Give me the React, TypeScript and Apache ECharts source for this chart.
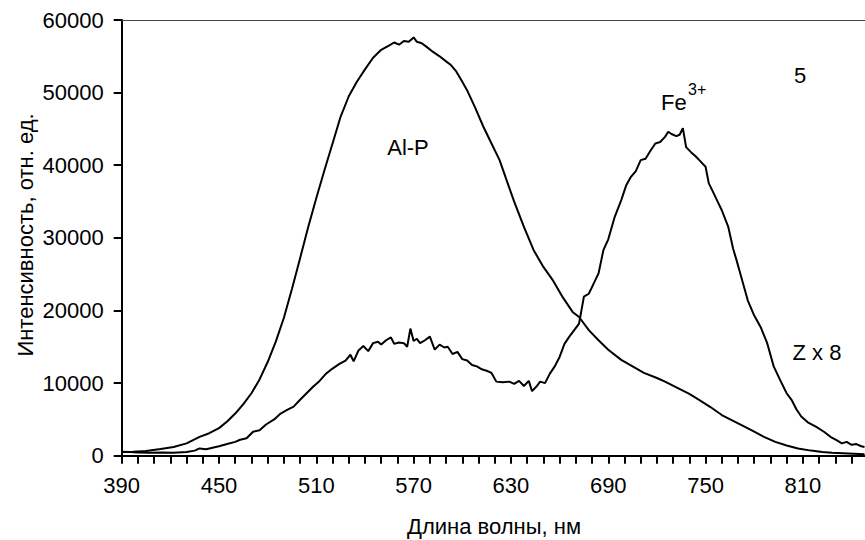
import React, { useEffect, useRef } from "react";
import * as echarts from "echarts";

// Al-P band (broad, peak ~570 nm)
const alpWavelength = [390, 397, 405, 414, 422, 430, 438, 444, 450, 455, 460, 465, 470, 475, 480, 485, 490, 495, 500, 505, 510, 515, 520, 525, 530, 535, 540, 545, 550, 555, 558, 561, 564, 567, 570, 572, 575, 578, 582, 586, 590, 593, 596, 600, 603, 608, 613, 618, 623, 628, 632, 638, 644, 650, 656, 662, 668, 672, 678, 684, 690, 698, 705, 712, 720, 725, 732, 740, 746, 753, 760, 767, 774, 780, 786, 793, 800, 807, 815, 822, 828, 838, 848];
const alpIntensity = [500, 550, 650, 920, 1200, 1700, 2600, 3100, 3800, 4700, 5800, 7100, 8600, 10500, 12900, 15700, 19000, 23000, 27200, 31500, 35500, 39300, 43000, 46700, 49500, 51500, 53200, 54800, 55900, 56500, 56900, 56600, 57100, 57000, 57600, 57000, 56800, 56300, 55600, 55000, 54300, 53800, 53000, 51500, 50300, 47900, 45300, 43000, 40700, 37500, 35000, 31500, 28300, 26000, 24100, 21800, 19800, 19100, 17300, 15900, 14600, 13200, 12300, 11400, 10700, 10200, 9400, 8500, 7700, 6700, 5600, 4800, 4000, 3300, 2600, 1900, 1400, 1000, 700, 500, 400, 300, 200];

// Fe3+ band (Z x 8)
const feWavelength = [390, 395, 400, 407, 415, 422, 430, 435, 438, 442, 446, 450, 455, 460, 463, 467, 471, 475, 479, 484, 488, 492, 496, 500, 504, 508, 512, 516, 520, 524, 528, 531, 533, 536, 539, 542, 545, 548, 550, 553, 556, 558, 561, 564, 566, 568, 570, 572, 574, 577, 580, 583, 586, 589, 591, 594, 597, 600, 603, 606, 609, 612, 615, 618, 621, 625, 629, 632, 635, 638, 641, 643, 646, 648, 651, 654, 657, 660, 663, 666, 669, 672, 675, 678, 681, 684, 687, 690, 694, 698, 701, 704, 707, 710, 713, 716, 719, 722, 725, 727, 729, 732, 734, 736, 738, 741, 744, 747, 750, 752, 754, 757, 760, 764, 767, 769, 772, 776, 780, 784, 788, 792, 796, 800, 803, 806, 809, 813, 818, 823, 827, 831, 834, 837, 840, 843, 846, 848];
const feIntensity = [550, 500, 450, 410, 450, 400, 500, 700, 1000, 900, 1100, 1300, 1600, 1900, 2200, 2400, 3300, 3500, 4300, 5000, 5800, 6300, 6750, 7700, 8600, 9500, 10300, 11300, 12000, 12600, 13100, 13900, 13000, 14500, 15100, 14400, 15500, 15700, 15300, 15900, 16300, 15400, 15600, 15500, 15000, 17500, 15800, 16100, 15500, 15900, 16400, 14600, 15300, 14900, 15000, 14000, 14300, 13300, 13100, 12500, 12300, 11900, 11700, 11400, 10200, 10100, 10200, 9900, 10300, 9600, 10300, 8900, 9600, 10200, 10000, 11300, 12300, 13600, 15400, 16400, 17300, 18200, 21900, 22300, 23700, 25100, 28300, 29800, 32900, 35200, 37200, 38400, 39200, 40700, 40900, 42000, 43000, 43200, 43900, 44600, 44300, 44000, 44200, 45100, 42500, 41800, 41200, 40500, 39800, 37500, 36600, 35200, 33800, 31500, 28500, 27000, 24600, 21400, 19300, 17700, 15500, 12300, 10400, 8600, 7700, 6400, 5400, 4600, 4000, 3300, 2600, 2100, 1700, 1900, 1500, 1600, 1300, 1200];

const xMin = 390;
const xMax = 848.3;
const xTickStep = 10;
const xLabelStep = 60;
const yMin = 0;
const yMax = 60000;
const yStep = 10000;

const xTitle = "Длина волны, нм";
const yTitle = "Интенсивность, отн. ед.";

const FONT = '"Liberation Sans", Arial, sans-serif';
const FS = 22;

export default function App() {
  const ref = useRef<HTMLDivElement>(null);
  useEffect(() => {
    if (!ref.current) return;
    const chart = echarts.init(ref.current, null, { renderer: "svg" });
    const alpData = alpWavelength.map((x, i) => [x, alpIntensity[i]]);
    const feData = feWavelength.map((x, i) => [x, feIntensity[i]]);
    const grid = { left: 121.7, right: 0, top: 20, bottom: 84.3 };
    const textStyle = { fontFamily: FONT, fontSize: FS, fill: "#000" };
    chart.setOption({
      animation: false,
      backgroundColor: "#fff",
      grid,
      xAxis: [
        {
          type: "value",
          min: xMin,
          max: xMax,
          interval: xTickStep,
          axisLine: { show: true, lineStyle: { color: "#000", width: 2 } },
          axisTick: { show: true, length: 8, lineStyle: { color: "#000", width: 2 } },
          axisLabel: {
            margin: 19,
            color: "#000",
            fontFamily: FONT,
            fontSize: FS,
            showMinLabel: true,
            showMaxLabel: false,
            hideOverlap: false,
            formatter: (v: number) => ((Math.round(v) - xMin) % xLabelStep === 0 ? String(Math.round(v)) : ""),
          },
          splitLine: { show: false },
        },
        {
          type: "value",
          position: "top",
          min: xMin,
          max: xMax,
          interval: xTickStep,
          axisLine: { show: true, lineStyle: { color: "#444", width: 1.2 } },
          axisTick: { show: false },
          axisLabel: { show: false },
          splitLine: { show: false },
        },
      ],
      yAxis: {
        type: "value",
        min: yMin,
        max: yMax,
        interval: yStep,
        axisLine: { show: true, lineStyle: { color: "#000", width: 2 } },
        axisTick: { show: true, length: 8, lineStyle: { color: "#000", width: 2 } },
        axisLabel: {
          margin: 18,
          color: "#000",
          fontFamily: FONT,
          fontSize: FS,
          formatter: (v: number) => String(v),
        },
        splitLine: { show: false },
      },
      series: [
        {
          type: "line",
          data: alpData,
          showSymbol: false,
          symbol: "none",
          lineStyle: { color: "#000", width: 2 },
          clip: true,
        },
        {
          type: "line",
          data: feData,
          showSymbol: false,
          symbol: "none",
          lineStyle: { color: "#000", width: 2 },
          clip: true,
        },
      ],
      graphic: [
        {
          type: "text",
          x: 25,
          y: 235,
          rotation: Math.PI / 2,
          style: { ...textStyle, text: yTitle, align: "center", verticalAlign: "middle" },
        },
        {
          type: "text",
          x: 494,
          y: 526,
          style: { ...textStyle, text: xTitle, align: "center", verticalAlign: "middle" },
        },
        {
          type: "text",
          x: 408,
          y: 147,
          style: { ...textStyle, text: "Al-P", align: "center", verticalAlign: "middle" },
        },
        {
          type: "text",
          x: 661,
          y: 102,
          style: { ...textStyle, text: "Fe", align: "left", verticalAlign: "middle" },
        },
        {
          type: "text",
          x: 688,
          y: 89,
          style: { ...textStyle, fontSize: 16, text: "3+", align: "left", verticalAlign: "middle" },
        },
        {
          type: "text",
          x: 800,
          y: 75,
          style: { ...textStyle, text: "5", align: "center", verticalAlign: "middle" },
        },
        {
          type: "text",
          x: 817,
          y: 352,
          style: { ...textStyle, text: "Z x 8", align: "center", verticalAlign: "middle" },
        },
      ],
    });
    return () => chart.dispose();
  }, []);
  return (
    <div
      ref={ref}
      style={{ position: "fixed", left: 0, top: 0, width: 865, height: 540, background: "#fff" }}
    />
  );
}
